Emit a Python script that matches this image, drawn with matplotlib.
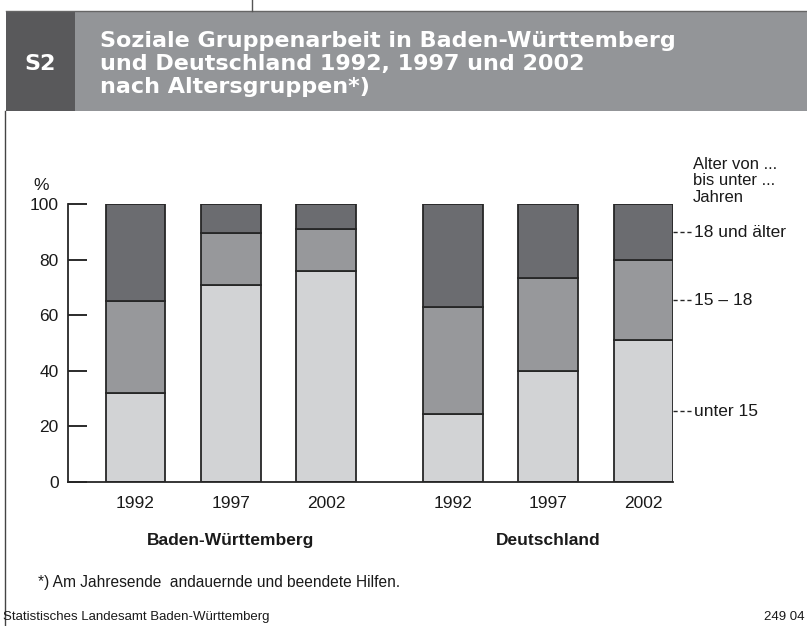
import matplotlib
matplotlib.use("Agg")
import matplotlib.pyplot as plt
from matplotlib.patches import Rectangle
from matplotlib.lines import Line2D
import matplotlib.transforms as mtransforms

# values (percent of cases per age group)
years = ["1992", "1997", "2002", "1992", "1997", "2002"]
regions = ["Baden-Württemberg", "Deutschland"]
unter_15 = [32, 71, 76, 24.5, 40, 51]
von_15_bis_18 = [33, 18.5, 15, 38.5, 33.5, 29]
ab_18 = [35, 10.5, 9, 37, 26.5, 20]
group_labels = ["unter 15", "15 – 18", "18 und älter"]

positions = [0, 1, 2, 3.33, 4.33, 5.33]
colours = ["#d2d3d5", "#97989b", "#6b6c70"]
edge = "#262626"

W, H = 807, 626
fig = plt.figure(figsize=(W / 100, H / 100), dpi=100)
plt.rcParams["font.family"] = ["Liberation Sans", "DejaVu Sans"]
narrow = ["Liberation Sans Narrow", "Liberation Sans", "DejaVu Sans"]


def fx(px):
    return px / W


def fy(py):
    return 1 - py / H


# header band
fig.add_artist(Rectangle((fx(6), fy(111)), fx(W - 6), 100 / H, transform=fig.transFigure,
                         facecolor="#939598", edgecolor="none"))
fig.add_artist(Rectangle((fx(6), fy(111)), fx(69), 100 / H, transform=fig.transFigure,
                         facecolor="#59595b", edgecolor="none"))
fig.add_artist(Line2D([fx(6), 1], [fy(11), fy(11)], transform=fig.transFigure, color="#666666", lw=1))
fig.add_artist(Line2D([fx(252), fx(252)], [fy(0), fy(11)], transform=fig.transFigure, color="#555555", lw=1))
fig.add_artist(Line2D([fx(5), fx(5)], [fy(111), fy(626)], transform=fig.transFigure, color="#444444", lw=1))

fig.text(fx(24), fy(70), "S2", color="white", fontsize=16, fontweight="bold", va="baseline",
         family="DejaVu Sans")
title_lines = ["Soziale Gruppenarbeit in Baden-Württemberg",
               "und Deutschland 1992, 1997 und 2002",
               "nach Altersgruppen*)"]
for i, line in enumerate(title_lines):
    fig.text(fx(100), fy(47 + 23 * i), line, color="white", fontsize=16, fontweight="bold",
             va="baseline", family="DejaVu Sans")

ax = fig.add_axes([fx(68.3), fy(482), fx(605), 277.7 / H])

bottom = [0] * len(years)
for vals, col in zip([unter_15, von_15_bis_18, ab_18], colours):
    ax.bar(positions, vals, width=0.625, bottom=bottom, color=col, edgecolor=edge, linewidth=1.3)
    bottom = [b + v for b, v in zip(bottom, vals)]

ax.set_xlim(-0.705, 5.645)
ax.set_ylim(0, 100)
ax.set_yticks([0, 20, 40, 60, 80, 100])
ax.set_xticks(positions)
ax.set_xticklabels(years)
ax.tick_params(axis="y", direction="in", length=14, width=1.3, pad=7, labelsize=12.5, colors="#1a1a1a")
ax.tick_params(axis="x", length=0, pad=10, labelsize=12.5, colors="#1a1a1a")
for s in ["top", "right"]:
    ax.spines[s].set_visible(False)
for s in ["left", "bottom"]:
    ax.spines[s].set_linewidth(1.3)
    ax.spines[s].set_color(edge)

ax.text(-0.058, 1.066, "%", transform=ax.transAxes, fontsize=12.5, ha="left", va="center", color="#1a1a1a")

# group labels under the years
for k, name in enumerate(regions):
    centre = sum(positions[3 * k:3 * k + 3]) / 3
    ax.text(centre, -0.21, name, transform=ax.get_xaxis_transform(), ha="center", va="center",
            fontsize=12.5, fontweight="bold", color="#1a1a1a")

# right-hand labels at the middle of each segment of the last bar
trans = mtransforms.blended_transform_factory(ax.transAxes, ax.transData)
lo = 0
for vals, lab in zip([unter_15, von_15_bis_18, ab_18], group_labels):
    mid = lo + vals[-1] / 2
    lo += vals[-1]
    ax.plot([1.0, 1.033], [mid, mid], transform=trans, clip_on=False, color=edge, lw=1,
            linestyle=(0, (3, 2)))
    ax.text(1.035, mid, lab, transform=trans, fontsize=12.5, va="center", ha="left", color="#1a1a1a")

for i, line in enumerate(["Alter von ...", "bis unter ...", "Jahren"]):
    fig.text(fx(693), fy(164 + 17 * i), line, fontsize=12, va="center", ha="left", color="#1a1a1a")

fig.text(fx(38), fy(583), "*) Am Jahresende  andauernde und beendete Hilfen.", fontsize=11.2,
         family=narrow, va="center", color="#1a1a1a")
fig.text(fx(3), fy(617), "Statistisches Landesamt Baden-Württemberg", fontsize=9.5,
         family=narrow, va="center", color="#1a1a1a")
fig.text(fx(805), fy(617), "249 04", fontsize=9.5, family=narrow, va="center", ha="right", color="#1a1a1a")

fig.savefig("out.png", dpi=100)
